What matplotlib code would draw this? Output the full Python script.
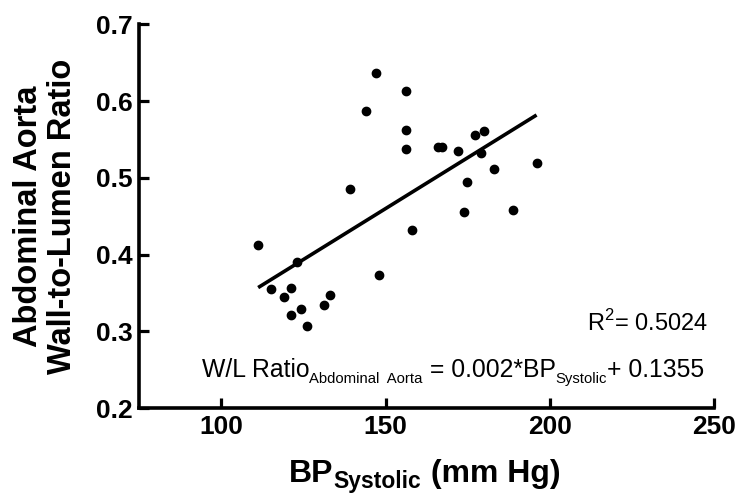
import matplotlib
matplotlib.use("Agg")
import matplotlib.pyplot as plt
import numpy as np

plt.rcParams['font.family'] = ['Liberation Sans', 'DejaVu Sans']
plt.rcParams['mathtext.fontset'] = 'custom'
plt.rcParams['mathtext.rm'] = 'Liberation Sans'
plt.rcParams['mathtext.bf'] = 'Liberation Sans:bold'

# systolic blood pressure (mm Hg) and wall-to-lumen ratio
bp_systolic = [147.1, 156.1, 144.0, 156.1, 156.1, 166.1, 167.1, 172.0, 177.1, 180.0,
               179.0, 182.9, 174.9, 139.1, 174.0, 188.9, 158.0, 111.2, 123.0, 148.1,
               115.2, 121.2, 119.1, 133.1, 131.2, 124.2, 121.2, 126.2, 196.0]
wl_ratio = [0.636, 0.613, 0.587, 0.562, 0.538, 0.540, 0.540, 0.535, 0.556, 0.561,
            0.533, 0.511, 0.495, 0.485, 0.455, 0.458, 0.432, 0.413, 0.391, 0.374,
            0.355, 0.356, 0.345, 0.347, 0.335, 0.329, 0.321, 0.307, 0.520]

# regression line as drawn in the figure
fit_slope = 0.00265
fit_intercept = 0.0625

x_ticks = [100, 150, 200, 250]
y_ticks = [0.2, 0.3, 0.4, 0.5, 0.6, 0.7]


def chain_text(ax, x0, y0, pieces):
    """Write pieces left to right on one baseline; pieces = (text, size, weight, dy)."""
    prev = None
    for txt, size, weight, dy in pieces:
        if prev is None:
            xy, coords = (x0, y0), ax.transAxes
        else:
            xy, coords = (1, y0), (prev, ax.transAxes)
        prev = ax.annotate(txt, xy=xy, xycoords=coords, xytext=(0, dy),
                           textcoords='offset points', ha='left', va='baseline',
                           fontsize=size, fontweight=weight, annotation_clip=False)
    return prev


fig = plt.figure(figsize=(7.39, 4.95), dpi=100)
ax = fig.add_axes([0.1885, 0.1752, 0.7775, 0.7757])

ax.plot(bp_systolic, wl_ratio, 'o', color='black', ms=6, zorder=3)

x_line = np.array([min(bp_systolic), max(bp_systolic)])
ax.plot(x_line, fit_slope * x_line + fit_intercept, color='black', lw=2.6,
        solid_capstyle='butt')

ax.set_xlim(75, 250)
ax.set_ylim(0.2, 0.7)
ax.set_xticks(x_ticks)
ax.set_yticks(y_ticks)
ax.set_yticklabels([f'{v:.1f}' for v in y_ticks])

for side in ['top', 'right']:
    ax.spines[side].set_visible(False)
for side in ['left', 'bottom']:
    ax.spines[side].set_linewidth(2.6)

ax.tick_params(direction='in', length=7, width=2.3, labelsize=19, pad=5)
for lab in ax.get_xticklabels() + ax.get_yticklabels():
    lab.set_fontweight('bold')

# x label with subscript
chain_text(ax, 0.261, -0.191, [
    ('BP', 23, 'bold', 0),
    ('Systolic', 16.5, 'bold', -4.3),
    (' (mm Hg)', 23, 'bold', 0),
])

fig.text(0.0616, 0.5628, 'Abdominal Aorta\nWall-to-Lumen Ratio', rotation=90,
         ha='center', va='center', fontsize=23.5, fontweight='bold',
         linespacing=1.15, multialignment='center')

ax.text(0.99, 0.202, r'R$^{\mathregular{2}}$= 0.5024', transform=ax.transAxes,
        ha='right', va='baseline', fontsize=17)

chain_text(ax, 0.1086, 0.0807, [
    ('W/L Ratio', 17.8, 'normal', 0),
    ('Abdominal  Aorta', 10.7, 'normal', -4.3),
    (' = 0.002*BP', 17.8, 'normal', 0),
    ('Systolic', 10.7, 'normal', -4.3),
    ('+ 0.1355', 17.8, 'normal', 0),
])

fig.savefig('out.png', dpi=100)
